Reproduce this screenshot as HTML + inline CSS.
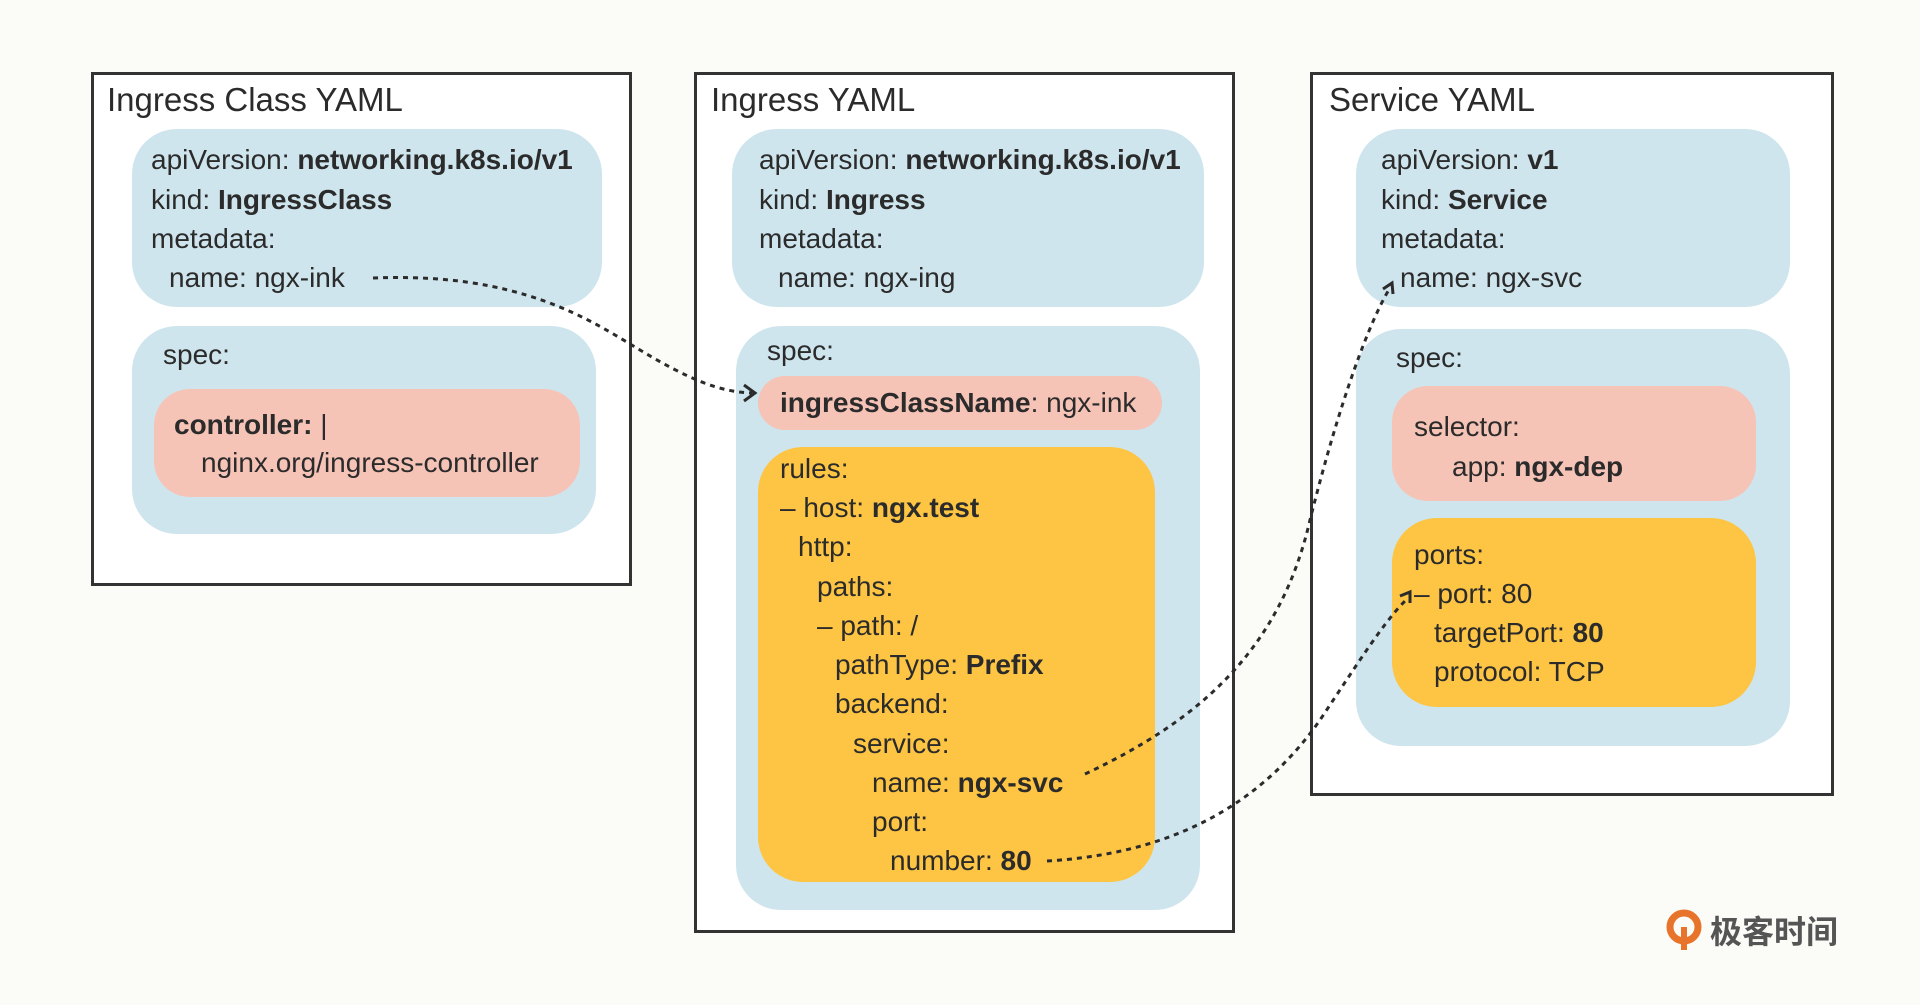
<!DOCTYPE html>
<html><head><meta charset="utf-8"><style>
body{margin:0;width:1920px;height:1005px;background:#fbfbf7;position:relative;overflow:hidden;font-family:"Liberation Sans","Noto Sans CJK SC",sans-serif;color:#2b2b2b}
.b{position:absolute;border:3px solid #333;background:#fff;box-sizing:border-box}
.r{position:absolute}
.t{position:absolute;font-size:28px;line-height:30px;white-space:pre}
.h{position:absolute;font-size:33px;line-height:36px;white-space:pre}
b{font-weight:bold}
</style></head><body>
<div class="b" style="left:91px;top:72px;width:541px;height:514px"></div>
<div class="b" style="left:694px;top:72px;width:541px;height:861px"></div>
<div class="b" style="left:1310px;top:72px;width:524px;height:724px"></div>

<div class="h" style="left:107px;top:82px">Ingress Class YAML</div>
<div class="h" style="left:711px;top:82px">Ingress YAML</div>
<div class="h" style="left:1329px;top:82px">Service YAML</div>

<!-- box1 -->
<div class="r" style="left:132px;top:129px;width:470px;height:178px;background:#cfe5ed;border-radius:45px"></div>
<div class="t" style="left:151px;top:145px">apiVersion: <b>networking.k8s.io/v1</b></div>
<div class="t" style="left:151px;top:185px">kind: <b>IngressClass</b></div>
<div class="t" style="left:151px;top:224px">metadata:</div>
<div class="t" style="left:169px;top:263px">name: ngx-ink</div>
<div class="r" style="left:132px;top:326px;width:464px;height:208px;background:#cfe5ed;border-radius:45px"></div>
<div class="t" style="left:163px;top:340px">spec:</div>
<div class="r" style="left:154px;top:389px;width:426px;height:108px;background:#f6c3b7;border-radius:36px"></div>
<div class="t" style="left:174px;top:410px"><b>controller:</b> |</div>
<div class="t" style="left:201px;top:448px">nginx.org/ingress-controller</div>

<!-- box2 -->
<div class="r" style="left:732px;top:129px;width:472px;height:178px;background:#cfe5ed;border-radius:45px"></div>
<div class="t" style="left:759px;top:145px">apiVersion: <b>networking.k8s.io/v1</b></div>
<div class="t" style="left:759px;top:185px">kind: <b>Ingress</b></div>
<div class="t" style="left:759px;top:224px">metadata:</div>
<div class="t" style="left:778px;top:263px">name: ngx-ing</div>
<div class="r" style="left:736px;top:326px;width:464px;height:584px;background:#cfe5ed;border-radius:45px"></div>
<div class="t" style="left:767px;top:336px">spec:</div>
<div class="r" style="left:758px;top:376px;width:404px;height:54px;background:#f6c3b7;border-radius:27px"></div>
<div class="t" style="left:780px;top:388px"><b>ingressClassName</b>: ngx-ink</div>
<div class="r" style="left:758px;top:447px;width:397px;height:435px;background:#fdc543;border-radius:45px"></div>
<div class="t" style="left:780px;top:454px">rules:</div>
<div class="t" style="left:780px;top:493px">– host: <b>ngx.test</b></div>
<div class="t" style="left:798px;top:532px">http:</div>
<div class="t" style="left:817px;top:572px">paths:</div>
<div class="t" style="left:817px;top:611px">– path: /</div>
<div class="t" style="left:835px;top:650px">pathType: <b>Prefix</b></div>
<div class="t" style="left:835px;top:689px">backend:</div>
<div class="t" style="left:853px;top:729px">service:</div>
<div class="t" style="left:872px;top:768px">name: <b>ngx-svc</b></div>
<div class="t" style="left:872px;top:807px">port:</div>
<div class="t" style="left:890px;top:846px">number: <b>80</b></div>

<!-- box3 -->
<div class="r" style="left:1356px;top:129px;width:434px;height:178px;background:#cfe5ed;border-radius:45px"></div>
<div class="t" style="left:1381px;top:145px">apiVersion: <b>v1</b></div>
<div class="t" style="left:1381px;top:185px">kind: <b>Service</b></div>
<div class="t" style="left:1381px;top:224px">metadata:</div>
<div class="t" style="left:1400px;top:263px">name: ngx-svc</div>
<div class="r" style="left:1356px;top:329px;width:434px;height:417px;background:#cfe5ed;border-radius:45px"></div>
<div class="t" style="left:1396px;top:343px">spec:</div>
<div class="r" style="left:1392px;top:386px;width:364px;height:115px;background:#f6c3b7;border-radius:36px"></div>
<div class="t" style="left:1414px;top:412px">selector:</div>
<div class="t" style="left:1452px;top:452px">app: <b>ngx-dep</b></div>
<div class="r" style="left:1392px;top:518px;width:364px;height:189px;background:#fdc543;border-radius:45px"></div>
<div class="t" style="left:1414px;top:540px">ports:</div>
<div class="t" style="left:1414px;top:579px">– port: 80</div>
<div class="t" style="left:1434px;top:618px">targetPort: <b>80</b></div>
<div class="t" style="left:1434px;top:657px">protocol: TCP</div>

<svg style="position:absolute;left:0;top:0" width="1920" height="1005">
<g fill="none" stroke="#2b2b2b" stroke-width="3" stroke-dasharray="5 5">
<path d="M373 278 C 520 272, 590 320, 640 350 S 720 392, 752 393"/>
<path d="M1085 774 C 1200 720, 1280 650, 1310 520 C 1340 400, 1370 320, 1390 288"/>
<path d="M1047 861 C 1150 855, 1250 820, 1320 720 C 1360 660, 1385 620, 1408 598"/>
</g>
<g fill="none" stroke="#2b2b2b" stroke-width="3">
<path d="M744 385 L755 393 L744 401"/>
<path d="M1383 289 L1392 283 L1393 294"/>
<path d="M1400 596 L1410 592 L1410 603"/>
</g>
<circle cx="1684" cy="927" r="14" fill="none" stroke="#e8742c" stroke-width="7"/>
<path d="M1684 927 L1684 950" stroke="#e8742c" stroke-width="6"/>
</svg>
<div style="position:absolute;left:1710px;top:910px;font-size:32px;line-height:40px;font-weight:bold;color:#555;font-family:'Noto Sans CJK SC',sans-serif">极客时间</div>
</body></html>
